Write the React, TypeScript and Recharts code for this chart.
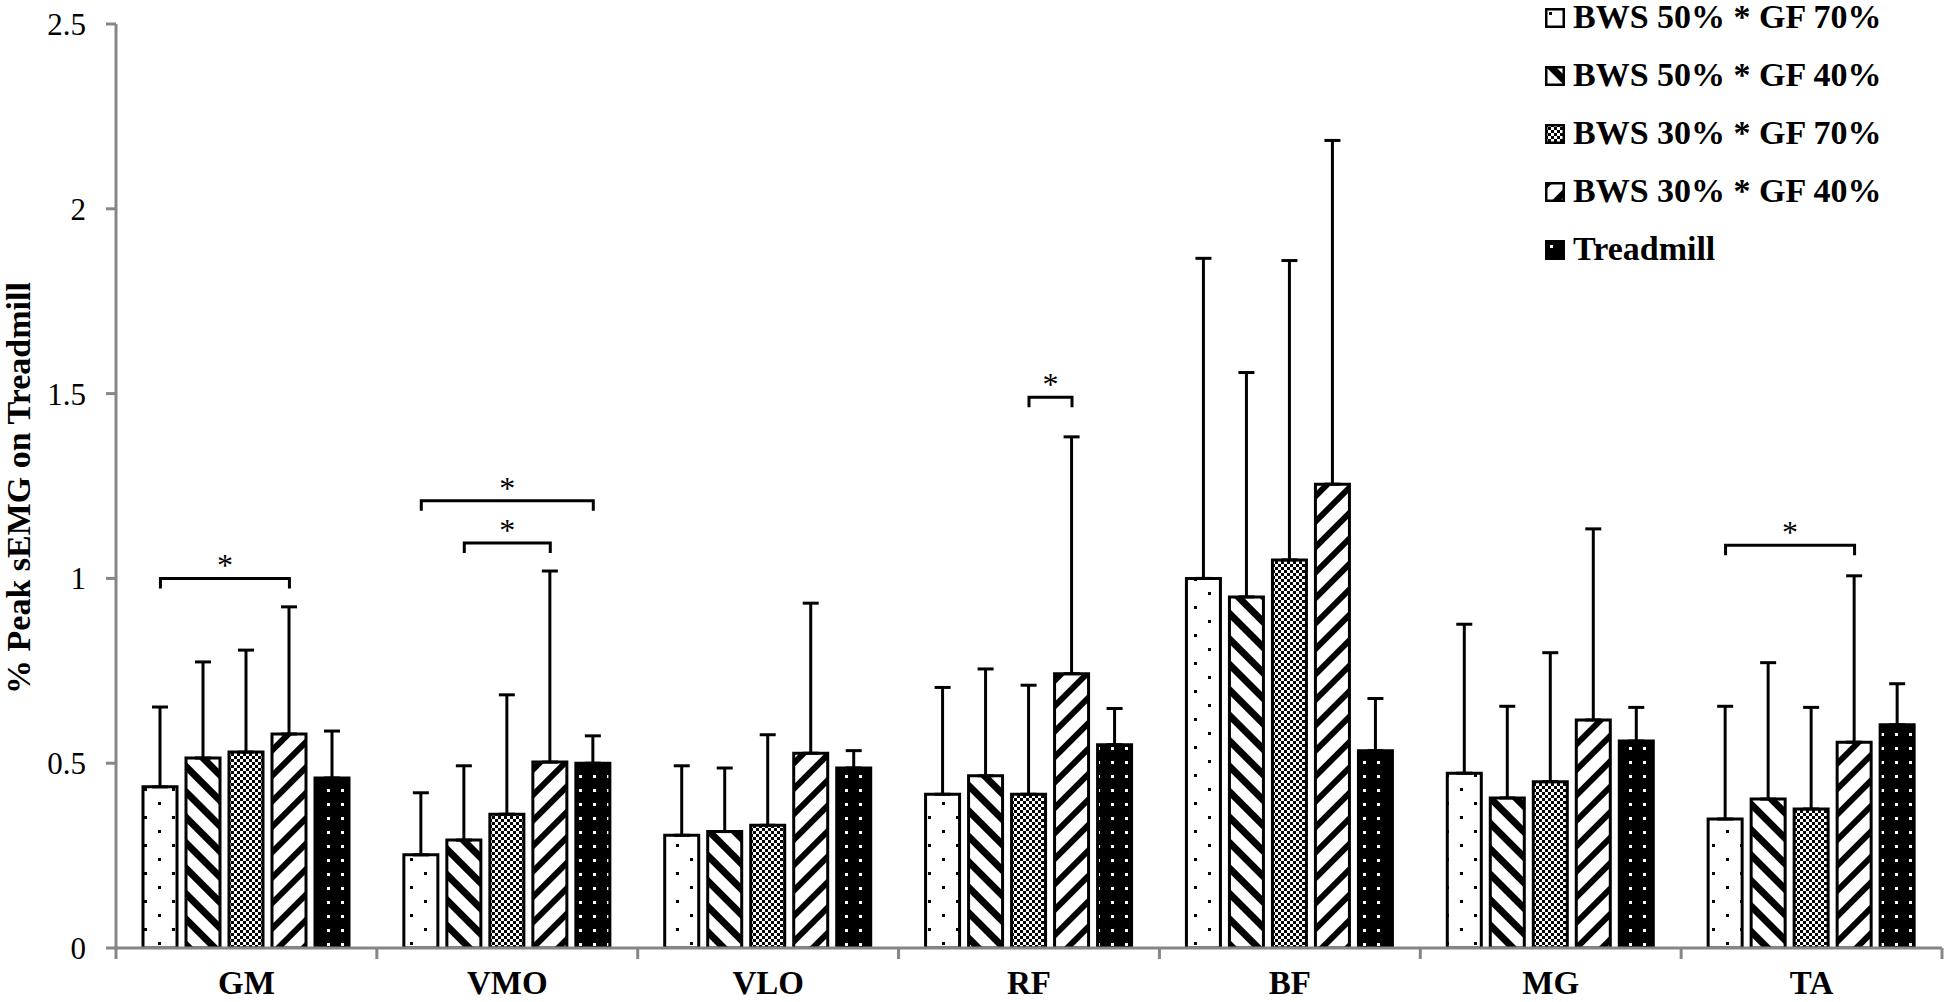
import React from 'react'
import { BarChart, Bar, XAxis, YAxis, ErrorBar, Legend, ReferenceLine } from 'recharts'

const CATEGORIES = ['GM', 'VMO', 'VLO', 'RF', 'BF', 'MG', 'TA']
const SERIES = ['BWS 50% * GF 70%', 'BWS 50% * GF 40%', 'BWS 30% * GF 70%', 'BWS 30% * GF 40%', 'Treadmill']

// bar heights (means)
const BWS50_GF70 = [0.436, 0.252, 0.305, 0.416, 1.0, 0.473, 0.349]
const BWS50_GF40 = [0.514, 0.292, 0.315, 0.466, 0.95, 0.406, 0.403]
const BWS30_GF70 = [0.53, 0.362, 0.332, 0.416, 1.05, 0.45, 0.376]
const BWS30_GF40 = [0.579, 0.503, 0.527, 0.742, 1.255, 0.617, 0.557]
const TREADMILL = [0.46, 0.5, 0.487, 0.55, 0.534, 0.56, 0.604]

// upper end of each error bar
const BWS50_GF70_TOP = [0.652, 0.42, 0.493, 0.705, 1.866, 0.876, 0.654]
const BWS50_GF40_TOP = [0.774, 0.493, 0.487, 0.755, 1.557, 0.654, 0.772]
const BWS30_GF70_TOP = [0.806, 0.685, 0.577, 0.711, 1.86, 0.799, 0.651]
const BWS30_GF40_TOP = [0.923, 1.02, 0.933, 1.383, 2.185, 1.134, 1.007]
const TREADMILL_TOP = [0.587, 0.574, 0.534, 0.648, 0.675, 0.651, 0.715]

const Y_TICKS = [0, 0.5, 1, 1.5, 2, 2.5]

// significance brackets: category, first bar, last bar, height
const BRACKET_CAT = ['GM', 'VMO', 'VMO', 'RF', 'TA']
const BRACKET_FROM = [0, 0, 1, 2, 0]
const BRACKET_TO = [3, 4, 3, 3, 3]
const BRACKET_Y = [1.0, 1.21, 1.096, 1.49, 1.09]

const MEANS = [BWS50_GF70, BWS50_GF40, BWS30_GF70, BWS30_GF40, TREADMILL]
const TOPS = [BWS50_GF70_TOP, BWS50_GF40_TOP, BWS30_GF70_TOP, BWS30_GF40_TOP, TREADMILL_TOP]

const data = CATEGORIES.map((name, i) => {
  const row: any = { name }
  MEANS.forEach((m, s) => {
    row[`s${s}`] = m[i]
    row[`e${s}`] = [0, TOPS[s][i] - m[i]]
  })
  return row
})

const W = 1946
const H = 1002
const Y_AXIS_W = 116
const MARGIN = { top: 24, right: 4, bottom: 0, left: 0 }
const PLOT_W = W - Y_AXIS_W - MARGIN.left - MARGIN.right
const BAND = PLOT_W / CATEGORIES.length
const BAR = 34
const GAP = 9
const PITCH = BAR + GAP
const AXIS = '#868686'
const FONT = '"Liberation Serif", "Times New Roman", serif'

function XTick(props: any) {
  const { x, y, payload, index } = props
  const half = BAND / 2
  return (
    <g>
      <line x1={x - half} y1={y} x2={x - half} y2={y + 11} stroke={AXIS} strokeWidth={3} />
      {index === CATEGORIES.length - 1 && (
        <line x1={x + half} y1={y} x2={x + half} y2={y + 11} stroke={AXIS} strokeWidth={3} />
      )}
      <text x={x} y={y + 46} textAnchor="middle" fontSize={33} fontWeight="bold" fontFamily={FONT} fill="#000">
        {payload.value}
      </text>
    </g>
  )
}

function YLabel(props: any) {
  const vb = props.viewBox
  const cy = vb.y + vb.height / 2 + 2
  return (
    <text
      transform={`translate(18, ${cy}) rotate(-90)`}
      textAnchor="middle"
      dominantBaseline="central"
      fontSize={34}
      fontWeight="bold"
      fontFamily={FONT}
      fill="#000"
    >
      % Peak sEMG on Treadmill
    </text>
  )
}

// significance bracket, drawn around the category centre given by the axis
function Bracket(props: any) {
  const { x1, y1, from, to } = props
  const xa = x1 + (from - 2) * PITCH
  const xb = x1 + (to - 2) * PITCH
  return (
    <g>
      <path d={`M${xa},${y1 + 10} V${y1} H${xb} V${y1 + 10}`} fill="none" stroke="#000" strokeWidth={3} />
      <text x={(xa + xb) / 2} y={y1 - 2} textAnchor="middle" fontSize={32} fontFamily={FONT} fill="#000">
        *
      </text>
    </g>
  )
}

function LegendBox() {
  return (
    <div style={{ fontFamily: FONT, fontWeight: 'bold', fontSize: 34, color: '#000' }}>
      {SERIES.map((name, s) => (
        <div key={name} style={{ height: 58, lineHeight: '58px', whiteSpace: 'nowrap' }}>
          <svg width={20} height={20} style={{ verticalAlign: 'baseline', marginRight: 8 }}>
            <rect x={1.25} y={1.25} width={17.5} height={17.5} fill={`url(#p${s})`} stroke="#000" strokeWidth={2.5} />
          </svg>
          {name}
        </div>
      ))}
    </div>
  )
}

export default function App() {
  return (
    <div style={{ position: 'absolute', left: 0, top: 0, width: W, height: H, background: '#fff' }}>
      <BarChart width={W} height={H} data={data} margin={MARGIN} barGap={GAP}>
        <defs>
          <pattern id="p0" width="28" height="28" patternUnits="userSpaceOnUse">
            <rect width="28" height="28" fill="#fff" />
            <rect x="4" y="4" width="3" height="3" fill="#000" />
            <rect x="18" y="18" width="3" height="3" fill="#000" />
          </pattern>
          <pattern id="p1" width="18" height="18" patternUnits="userSpaceOnUse" patternTransform="rotate(-45)">
            <rect width="18" height="18" fill="#fff" />
            <rect width="7" height="18" fill="#000" />
          </pattern>
          <pattern id="p2" width="6" height="6" patternUnits="userSpaceOnUse">
            <rect width="6" height="6" fill="#fff" />
            <rect width="3" height="3" fill="#000" />
            <rect x="3" y="3" width="3" height="3" fill="#000" />
          </pattern>
          <pattern id="p3" width="18" height="18" patternUnits="userSpaceOnUse" patternTransform="rotate(45)">
            <rect width="18" height="18" fill="#fff" />
            <rect width="6" height="18" fill="#000" />
          </pattern>
          <pattern id="p4" width="14" height="14" patternUnits="userSpaceOnUse">
            <rect width="14" height="14" fill="#000" />
            <rect x="5" y="5" width="3" height="3" fill="#fff" />
          </pattern>
        </defs>
        <XAxis
          dataKey="name"
          interval={0}
          height={54}
          tickSize={0}
          tickMargin={0}
          tickLine={false}
          axisLine={{ stroke: AXIS, strokeWidth: 3 }}
          tick={<XTick />}
        />
        <YAxis
          width={Y_AXIS_W}
          domain={[0, 2.5]}
          ticks={Y_TICKS}
          allowDataOverflow
          axisLine={{ stroke: AXIS, strokeWidth: 3 }}
          tickLine={{ stroke: AXIS, strokeWidth: 3 }}
          tickSize={10}
          tickMargin={20}
          tick={{ fontSize: 31, fill: '#000', fontFamily: FONT }}
          label={{ content: <YLabel /> }}
        />
        {SERIES.map((name, s) => (
          <Bar
            key={name}
            name={name}
            dataKey={`s${s}`}
            fill={`url(#p${s})`}
            stroke="#000"
            strokeWidth={3}
            barSize={BAR}
            isAnimationActive={false}
          >
            <ErrorBar dataKey={`e${s}`} direction="y" width={8} stroke="#000" strokeWidth={3} isAnimationActive={false} />
          </Bar>
        ))}
        {BRACKET_CAT.map((cat, k) => (
          <ReferenceLine
            key={`br${k}`}
            segment={[{ x: cat, y: BRACKET_Y[k] }, { x: cat, y: BRACKET_Y[k] }]}
            shape={(p: any) => <Bracket {...p} from={BRACKET_FROM[k]} to={BRACKET_TO[k]} />}
          />
        ))}
        <Legend
          layout="vertical"
          align="center"
          verticalAlign="middle"
          wrapperStyle={{ left: 1545, top: -12, width: 400 }}
          content={<LegendBox />}
        />
      </BarChart>
    </div>
  )
}
